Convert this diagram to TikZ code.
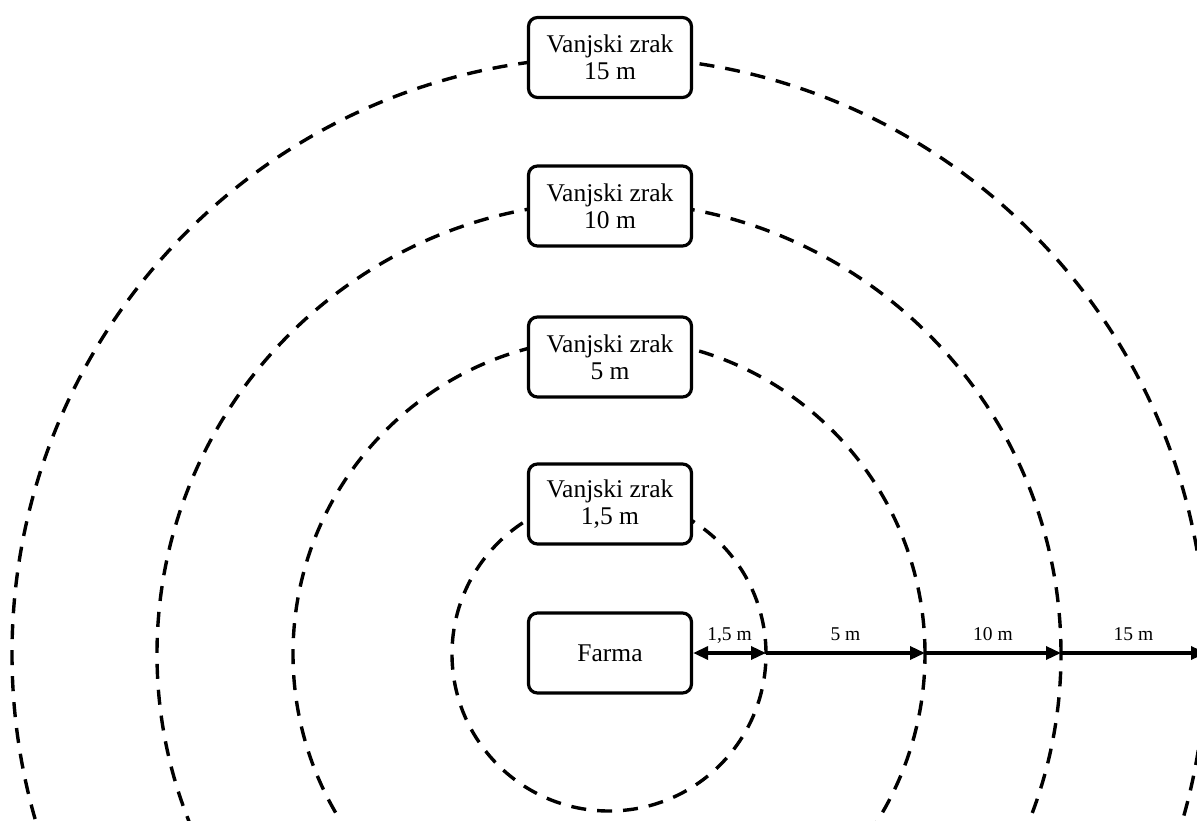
\documentclass[tikz,border=0pt]{standalone}
\usepackage{fontspec}
\setmainfont{Liberation Serif}
\usetikzlibrary{arrows.meta}
\begin{document}
\begin{tikzpicture}[x=1pt,y=-1pt,
  zone/.style={draw, line width=3.2pt, fill=white, rounded corners=9pt, minimum width=163pt, minimum height=80pt, align=center, font=\fontsize{25.5}{27}\selectfont, inner sep=0pt},
  ring/.style={draw, line width=3.4pt, dash pattern=on 15pt off 11pt},
  tipA/.style={line width=3.4pt},
  lbl/.style={font=\fontsize{19.5}{22}\selectfont, anchor=base, inner sep=0pt, yshift=13pt}]
\useasboundingbox (0,0) rectangle (1197,821);
\clip (0,0) rectangle (1197,821);
\coordinate (O) at (609,654);
\draw[ring] (O) circle (157pt);
\draw[ring] (O) circle (316pt);
\draw[ring] (O) circle (452pt);
\draw[ring] (O) circle (597pt);
\node[zone] (z15) at (610,57.5) {Vanjski zrak\\15 m};
\node[zone] (z10) at (610,206) {Vanjski zrak\\10 m};
\node[zone] (z5) at (610,357) {Vanjski zrak\\5 m};
\node[zone] (z1) at (610,504) {Vanjski zrak\\1,5 m};
\node[zone] (farma) at (610,653) {Farma};
\coordinate (r1) at (766,653);
\coordinate (r2) at (925,653);
\coordinate (r3) at (1061,653);
\coordinate (r4) at (1206,653);
\draw[tipA, {Triangle[length=15pt,width=13pt]}-{Triangle[length=15pt,width=13pt]}] (farma.east) -- node[lbl]{1,5 m} (r1);
\draw[tipA, -{Triangle[length=15pt,width=13pt]}] (r1) -- node[lbl]{5 m} (r2);
\draw[tipA, -{Triangle[length=15pt,width=13pt]}] (r2) -- node[lbl]{10 m} (r3);
\draw[tipA, -{Triangle[length=15pt,width=13pt]}] (r3) -- node[lbl]{15 m} (r4);
\end{tikzpicture}
\end{document}
